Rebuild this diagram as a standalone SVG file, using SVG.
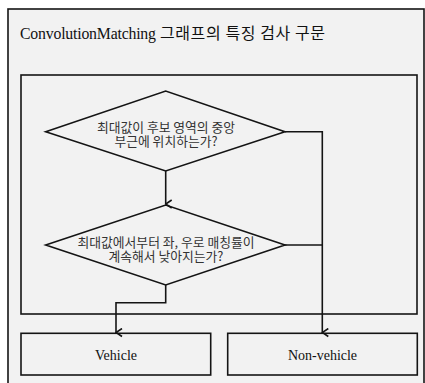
<svg xmlns="http://www.w3.org/2000/svg" width="425" height="383" viewBox="0 0 425 383">
<style>
.box{fill:#f2f2f2;stroke:#141414;stroke-width:1.6}
.ln{fill:none;stroke:#141414;stroke-width:1.6}
.kr{font-family:"Noto Sans CJK KR","Noto Sans",sans-serif;font-size:12.8px;fill:#333;text-anchor:middle}
.lat{font-family:"Liberation Serif","Noto Sans CJK KR",serif;font-size:14px;fill:#111;text-anchor:middle}
</style>
<defs>
<marker id="arr" viewBox="0 0 10 10" refX="5" refY="9" markerWidth="10" markerHeight="10" markerUnits="userSpaceOnUse" orient="auto-start-reverse">
<path d="M1,3 L5,9 L9,3" fill="none" stroke="#141414" stroke-width="1.6"/>
</marker>
</defs>
<rect width="425" height="383" fill="#ffffff"/>
<g id="outer">
<rect class="box" x="8" y="9" width="416" height="390"/>
<text x="20" y="39" font-family="Liberation Serif, serif" font-size="15.8" fill="#111" letter-spacing="-0.2">ConvolutionMatching<tspan font-family="Noto Sans CJK KR, sans-serif" font-size="16" letter-spacing="0.6"> 그래프의 특징 검사 구문</tspan></text>
</g>
<g id="inner">
<rect class="box" x="21" y="75" width="396" height="239"/>
</g>
<g id="d1">
<polygon class="box" points="45.7,131.7 165.7,91 285,131.7 165.7,171"/>
<text class="kr"><tspan x="166" y="131.5">최대값이 후보 영역의 중앙</tspan><tspan x="166" y="145.5">부근에 위치하는가?</tspan></text>
</g>
<g id="d2">
<polygon class="box" points="45.7,245 165.7,205 285,245 165.7,285"/>
<text class="kr"><tspan x="166" y="247">최대값에서부터 좌, 우로 매칭률이</tspan><tspan x="166" y="261">계속해서 낮아지는가?</tspan></text>
</g>
<g id="vehicle">
<rect class="box" x="21" y="333.3" width="189.7" height="41.7"/>
<text class="lat" x="116" y="360">Vehicle</text>
</g>
<g id="nonvehicle">
<rect class="box" x="227.7" y="333.3" width="189.6" height="41.7"/>
<text class="lat" x="322.5" y="360">Non-vehicle</text>
</g>
<g id="connectors">
<path class="ln" d="M165.7,171 L165.7,204" marker-end="url(#arr)"/>
<path class="ln" d="M285,131.7 L322.3,131.7 L322.3,332.5" marker-end="url(#arr)"/>
<path class="ln" d="M285,245 L322.3,245"/>
<path class="ln" d="M165.7,285 L165.7,302.7 L116,302.7 L116,332.5" marker-end="url(#arr)"/>
</g>
</svg>
